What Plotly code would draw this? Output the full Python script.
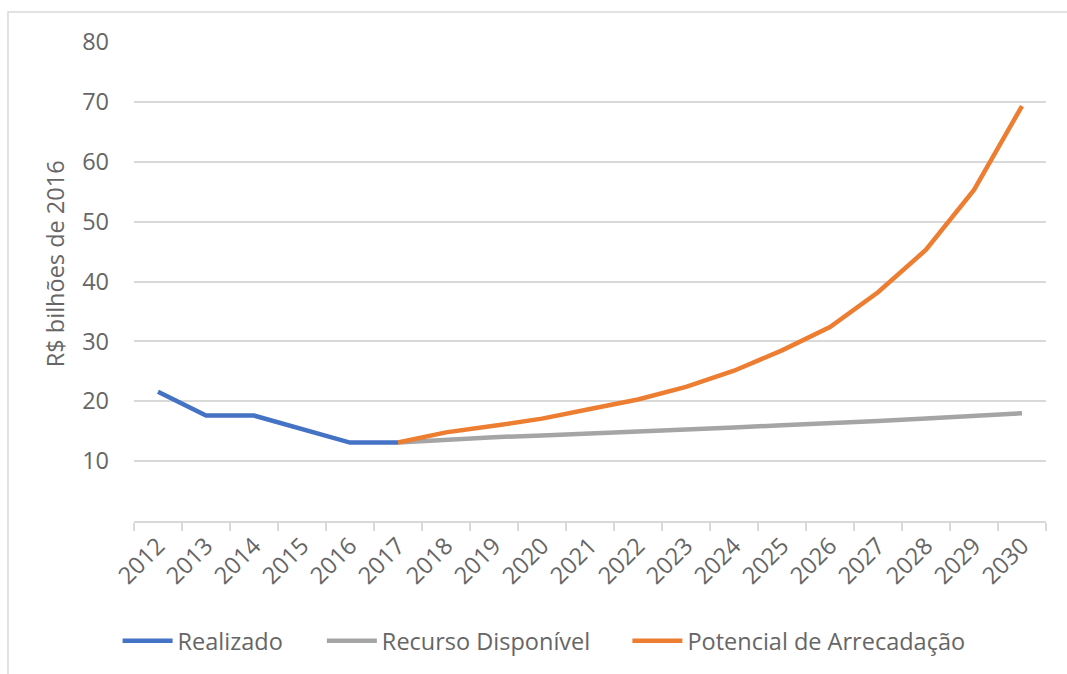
import plotly.graph_objects as go

# Series data (R$ billions, 2016 prices)
years = [str(y) for y in range(2012, 2031)]
realizado_years = years[:6]
realizado = [21.6, 17.6, 17.6, 15.3, 13.1, 13.1]
proj_years = years[5:]
recurso_disponivel = [13.1, 13.6, 14.0, 14.3, 14.6, 14.9, 15.3, 15.6, 16.0, 16.3, 16.7, 17.1, 17.5, 18.0]
potencial_arrecadacao = [13.1, 14.8, 15.9, 17.1, 18.7, 20.3, 22.4, 25.1, 28.5, 32.4, 38.2, 45.3, 55.3, 69.3]
y_ticks = [10, 20, 30, 40, 50, 60, 70, 80]

TEXT = "#666666"
GRID = "#D9D9D9"
FONT = "Open Sans"
FS = 23.5

fig = go.Figure()
fig.add_trace(go.Scatter(x=realizado_years, y=realizado, mode="lines", name="Realizado",
                         line=dict(color="#4472C4", width=4.5), legend="legend"))
fig.add_trace(go.Scatter(x=proj_years, y=recurso_disponivel, mode="lines", name="Recurso Disponível",
                         line=dict(color="#A5A5A5", width=4.5), legend="legend2"))
fig.add_trace(go.Scatter(x=proj_years, y=potencial_arrecadacao, mode="lines", name="Potencial de Arrecadação",
                         line=dict(color="#ED7D31", width=4.5), legend="legend3"))

# one legend box per series so the entries can be spaced out along the bottom
legend_style = dict(orientation="h", y=-0.248, yanchor="middle", xanchor="left",
                    font=dict(family=FONT, size=FS, color=TEXT), itemwidth=50,
                    bgcolor="rgba(0,0,0,0)")

fig.update_layout(
    width=1067, height=674,
    margin=dict(l=134, r=21, t=42, b=152),
    paper_bgcolor="white", plot_bgcolor="white",
    font=dict(family=FONT, size=FS, color=TEXT),
    showlegend=True,
    legend=dict(x=-0.018, **legend_style),
    legend2=dict(x=0.206, **legend_style),
    legend3=dict(x=0.541, **legend_style),
    shapes=[dict(type="rect", xref="paper", yref="paper",
                 x0=-0.1382, x1=1.03, y0=-0.36, y1=1.0625,
                 line=dict(color=GRID, width=1.5), layer="below")],
    annotations=[dict(text="R$ bilhões de 2016", textangle=-90,
                      xref="paper", yref="paper", x=-0.087, y=0.5375,
                      xanchor="center", yanchor="middle", showarrow=False,
                      font=dict(family=FONT, size=FS, color=TEXT))],
)

fig.update_xaxes(
    type="category", categoryorder="array", categoryarray=years,
    range=[-0.5, len(years) - 0.5],
    showgrid=False, showline=True, linecolor=GRID, linewidth=1.5,
    ticks="outside", tickson="boundaries", ticklen=8, tickcolor=GRID, tickwidth=1.5,
    tickangle=-45, tickfont=dict(family=FONT, size=FS, color=TEXT),
    zeroline=False,
)

fig.update_yaxes(
    range=[0, 80], tickvals=y_ticks, showgrid=True, gridcolor=GRID, gridwidth=1.5,
    zeroline=False, showline=False, ticklabelstandoff=24,
    tickfont=dict(family=FONT, size=FS, color=TEXT),
)

fig.write_html("out.html")
